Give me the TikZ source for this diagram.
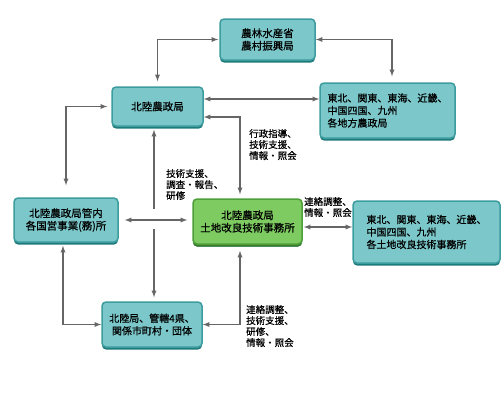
\documentclass[tikz,border=0pt]{standalone}
\usepackage{fontspec}
\setmainfont{Noto Sans CJK JP}[FakeBold=0.6]
\usetikzlibrary{shadows}
\pgfdeclarelayer{edgelayer}
\pgfdeclarelayer{nodelayer}
\pgfsetlayers{edgelayer,nodelayer,main}
\definecolor{tealfill}{HTML}{7BC7C9}
\definecolor{tealedge}{HTML}{3C9C9E}
\definecolor{tealdark}{HTML}{1F7A7C}
\definecolor{greenfill}{HTML}{7DCB61}
\definecolor{greenedge}{HTML}{4E9E3A}
\definecolor{greendark}{HTML}{3A7A2A}
\definecolor{linegray}{HTML}{666666}
\tikzstyle{office}=[rectangle,rounded corners=4pt,fill=tealfill,draw=tealedge,line width=1.5pt,inner sep=0pt,align=center,font=\fontsize{10.5}{12.5}\selectfont,drop shadow={shadow xshift=0pt,shadow yshift=-2.5pt,fill=tealdark,opacity=1}]
\tikzstyle{centre}=[office,fill=greenfill,draw=greenedge,drop shadow={shadow xshift=0pt,shadow yshift=-2.5pt,fill=greendark,opacity=1}]
\tikzstyle{transition}=[draw=linegray,line width=1.3pt]
\tikzstyle{note}=[anchor=north west,inner sep=0pt,align=left,font=\fontsize{9.5}{11}\selectfont]

\begin{document}
\begin{tikzpicture}[x=1pt,y=-1pt]
	\useasboundingbox (0,0) rectangle (504,400);
	\begin{pgfonlayer}{nodelayer}
		\node [style=office, minimum width=95, minimum height=41] (0) at (267.5, 39.5) {農林水産省\\農村振興局};
		\node [style=office, minimum width=91, minimum height=39] (1) at (157.5, 106.5) {北陸農政局};
		\node [style=office, minimum width=135, minimum height=55, align=left, font=\fontsize{10}{12.5}\selectfont] (2) at (387.5, 110.5) {東北、関東、東海、近畿、\\中国四国、九州\\各地方農政局};
		\node [style=office, minimum width=104, minimum height=44] (3) at (66, 220) {北陸農政局管内\\各国営事業(務)所};
		\node [style=centre, minimum width=109, minimum height=45] (4) at (247.5, 221.5) {北陸農政局\\土地改良技術事務所};
		\node [style=office, minimum width=147, minimum height=62, align=left, font=\fontsize{10}{12.5}\selectfont] (5) at (426.5, 232) {東北、関東、東海、近畿、\\中国四国、九州\\各土地改良技術事務所};
		\node [style=office, minimum width=100, minimum height=45, font=\fontsize{10}{12.5}\selectfont] (6) at (152, 324.5) {北陸局、管轄4県、\\関係市町村・団体};
		\node [style=note] (7) at (249, 129) {行政指導、\\技術支援、\\情報・照会};
		\node [style=note] (8) at (166, 169) {技術支援、\\調査・報告、\\研修};
		\node [style=note] (9) at (304, 197) {連絡調整、\\情報・照会};
		\node [style=note] (10) at (246, 305) {連絡調整、\\技術支援、\\研修、\\情報・照会};
	\end{pgfonlayer}
	\begin{pgfonlayer}{edgelayer}
		\coordinate (c) at ([xshift=-3.5]1.south |- 3.east);
		\draw [style=transition, latex-latex, shorten <=1pt, shorten >=5pt] (0.west) -| (1.north);
		\draw [style=transition, latex-latex, shorten >=6pt] (0.east) -| ([xshift=4.5]2.north);
		\draw [style=transition, latex-latex] ([yshift=7.5]1.east) -- ([yshift=7.5]1.east -| 2.west);
		\draw [style=transition, latex-latex, shorten >=4pt] ([yshift=-10.5]1.east) -| ([xshift=-7.5]4.north);
		\draw [style=transition, latex-latex, shorten <=4pt, shorten >=12pt] (1.west) -| (3.north);
		\draw [style=transition, latex-latex, shorten <=3pt] ([xshift=-3]3.south) |- (6.west);
		\draw [style=transition, latex-latex, shorten <=6pt] ([xshift=-7.5]4.south) |- (6.east);
		\draw [style=transition, latex-latex, shorten <=6pt, shorten >=5pt] (3.east) -- (3.east -| 4.west);
		\draw [style=transition, latex-latex, shorten <=1pt] ([yshift=-5.5]4.east) -- ([yshift=-5.5]4.east -| 5.west);
		\draw [style=transition, latex-, shorten <=3pt] ([xshift=-3.5]1.south) -- ([yshift=11]c);
		\draw [style=transition, -latex, shorten >=4pt] ([yshift=-9]c) -- (c |- 6.north);
	\end{pgfonlayer}
\end{tikzpicture}
\end{document}
